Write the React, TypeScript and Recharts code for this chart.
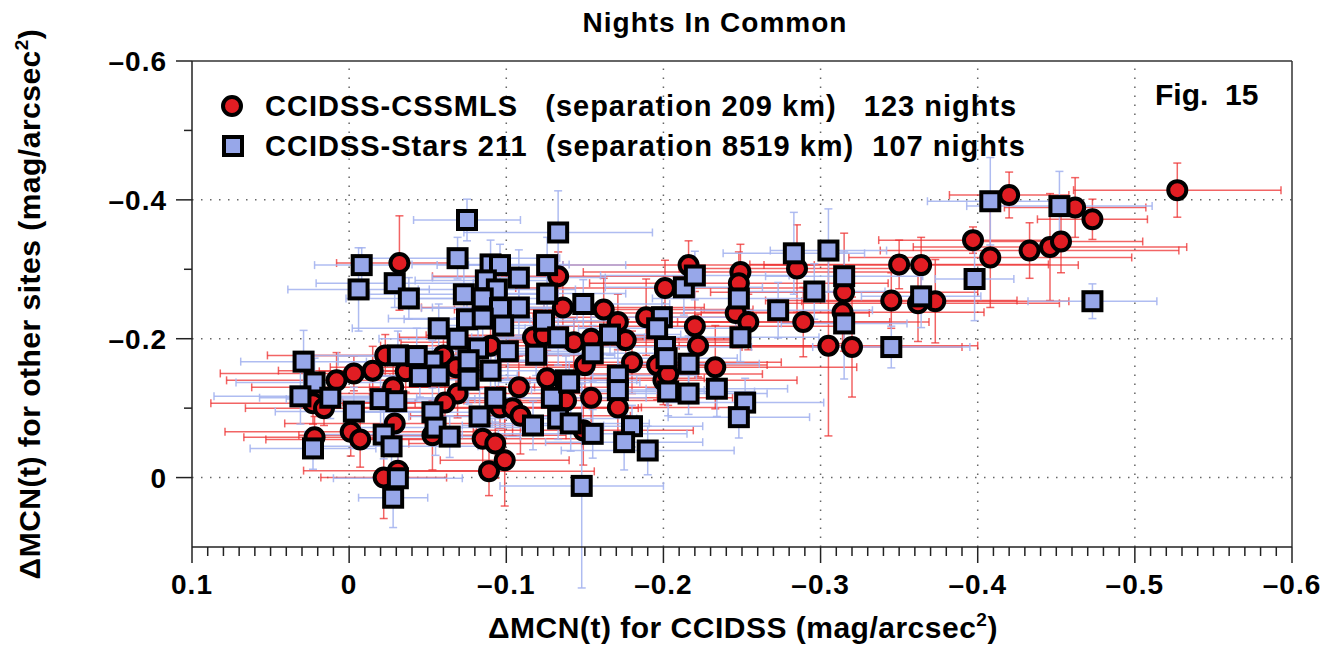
import { ScatterChart, Scatter, XAxis, YAxis, ErrorBar, ReferenceLine } from "recharts";

// [x, y, xErr, yErr]
const cssmlsNights: number[][] = [
  [-0.032, -0.309, 0.04, 0.068],
  [-0.023, -0.176, 0.075, 0.03],
  [-0.015, -0.154, 0.06, 0.035],
  [-0.003, -0.15, 0.085, 0.025],
  [0.008, -0.14, 0.07, 0.04],
  [-0.036, -0.153, 0.055, 0.03],
  [-0.028, -0.13, 0.09, 0.045],
  [0.023, -0.107, 0.065, 0.03],
  [0.016, -0.1, 0.05, 0.025],
  [0.022, -0.058, 0.045, 0.03],
  [-0.001, -0.066, 0.08, 0.035],
  [-0.007, -0.055, 0.06, 0.04],
  [-0.029, -0.078, 0.07, 0.04],
  [-0.053, -0.061, 0.085, 0.05],
  [-0.022, 0.0, 0.04, 0.059],
  [-0.031, -0.01, 0.06, 0.045],
  [-0.06, -0.176, 0.095, 0.04],
  [-0.068, -0.159, 0.08, 0.05],
  [-0.09, -0.19, 0.07, 0.045],
  [-0.069, -0.121, 0.1, 0.035],
  [-0.061, -0.108, 0.065, 0.045],
  [-0.085, -0.056, 0.075, 0.04],
  [-0.093, -0.049, 0.055, 0.05],
  [-0.099, -0.025, 0.041, 0.066],
  [-0.089, -0.009, 0.067, 0.035],
  [-0.096, -0.101, 0.09, 0.03],
  [-0.104, -0.1, 0.08, 0.04],
  [-0.109, -0.089, 0.07, 0.055],
  [-0.108, -0.13, 0.095, 0.045],
  [-0.117, -0.202, 0.085, 0.035],
  [-0.124, -0.205, 0.075, 0.05],
  [-0.126, -0.143, 0.1, 0.04],
  [-0.136, -0.245, 0.09, 0.04],
  [-0.133, -0.29, 0.08, 0.035],
  [-0.162, -0.242, 0.095, 0.045],
  [-0.171, -0.224, 0.085, 0.04],
  [-0.189, -0.231, 0.07, 0.055],
  [-0.143, -0.195, 0.11, 0.035],
  [-0.154, -0.2, 0.09, 0.04],
  [-0.176, -0.198, 0.075, 0.03],
  [-0.18, -0.166, 0.095, 0.045],
  [-0.15, -0.162, 0.08, 0.04],
  [-0.196, -0.162, 0.07, 0.05],
  [-0.2, -0.14, 0.085, 0.035],
  [-0.203, -0.149, 0.06, 0.045],
  [-0.154, -0.115, 0.09, 0.04],
  [-0.171, -0.101, 0.075, 0.06],
  [-0.138, -0.111, 0.065, 0.035],
  [-0.149, -0.068, 0.07, 0.05],
  [-0.201, -0.273, 0.095, 0.04],
  [-0.216, -0.306, 0.08, 0.035],
  [-0.22, -0.218, 0.1, 0.05],
  [-0.222, -0.19, 0.085, 0.045],
  [-0.233, -0.159, 0.09, 0.06],
  [-0.249, -0.296, 0.1, 0.04],
  [-0.248, -0.28, 0.095, 0.045],
  [-0.246, -0.237, 0.085, 0.05],
  [-0.254, -0.224, 0.09, 0.04],
  [-0.285, -0.301, 0.075, 0.063],
  [-0.289, -0.224, 0.08, 0.05],
  [-0.305, -0.19, 0.095, 0.13],
  [-0.32, -0.188, 0.07, 0.072],
  [-0.315, -0.267, 0.085, 0.085],
  [-0.314, -0.238, 0.09, 0.045],
  [-0.345, -0.255, 0.08, 0.04],
  [-0.362, -0.251, 0.09, 0.055],
  [-0.373, -0.254, 0.085, 0.06],
  [-0.35, -0.307, 0.095, 0.035],
  [-0.364, -0.306, 0.1, 0.04],
  [-0.397, -0.342, 0.06, 0.019],
  [-0.408, -0.317, 0.09, 0.072],
  [-0.42, -0.407, 0.038, 0.033],
  [-0.433, -0.327, 0.095, 0.04],
  [-0.446, -0.332, 0.087, 0.077],
  [-0.453, -0.34, 0.052, 0.045],
  [-0.462, -0.389, 0.045, 0.043],
  [-0.473, -0.372, 0.035, 0.029],
  [-0.527, -0.414, 0.066, 0.039],
];

const starsNights: number[][] = [
  [-0.075, -0.371, 0.034, 0.03],
  [-0.008, -0.306, 0.03, 0.025],
  [-0.006, -0.271, 0.045, 0.06],
  [-0.029, -0.28, 0.05, 0.035],
  [-0.038, -0.258, 0.04, 0.03],
  [-0.069, -0.316, 0.065, 0.03],
  [-0.09, -0.307, 0.05, 0.035],
  [-0.096, -0.306, 0.04, 0.03],
  [-0.108, -0.288, 0.055, 0.04],
  [-0.087, -0.284, 0.045, 0.035],
  [-0.094, -0.271, 0.05, 0.03],
  [-0.073, -0.264, 0.06, 0.04],
  [-0.085, -0.258, 0.045, 0.035],
  [-0.108, -0.245, 0.055, 0.04],
  [-0.096, -0.244, 0.05, 0.03],
  [-0.075, -0.228, 0.04, 0.035],
  [-0.085, -0.229, 0.06, 0.03],
  [-0.098, -0.219, 0.045, 0.04],
  [-0.057, -0.215, 0.055, 0.035],
  [-0.069, -0.2, 0.05, 0.03],
  [-0.101, -0.182, 0.045, 0.04],
  [-0.082, -0.186, 0.06, 0.035],
  [-0.076, -0.169, 0.05, 0.03],
  [-0.09, -0.154, 0.055, 0.04],
  [-0.076, -0.141, 0.045, 0.035],
  [-0.053, -0.167, 0.06, 0.03],
  [-0.043, -0.175, 0.05, 0.04],
  [-0.031, -0.176, 0.055, 0.035],
  [-0.045, -0.146, 0.045, 0.03],
  [-0.057, -0.147, 0.05, 0.04],
  [0.029, -0.167, 0.04, 0.045],
  [0.022, -0.137, 0.05, 0.035],
  [0.031, -0.117, 0.055, 0.04],
  [0.012, -0.115, 0.045, 0.03],
  [-0.003, -0.095, 0.05, 0.035],
  [-0.02, -0.113, 0.06, 0.04],
  [-0.03, -0.11, 0.045, 0.03],
  [-0.053, -0.094, 0.05, 0.035],
  [-0.055, -0.072, 0.055, 0.04],
  [-0.064, -0.059, 0.045, 0.03],
  [-0.022, -0.062, 0.05, 0.035],
  [-0.027, -0.045, 0.055, 0.04],
  [0.023, -0.042, 0.04, 0.03],
  [-0.093, -0.115, 0.05, 0.035],
  [-0.083, -0.088, 0.045, 0.04],
  [-0.031, 0.001, 0.041, 0.035],
  [-0.028, 0.029, 0.022, 0.043],
  [-0.126, -0.265, 0.05, 0.03],
  [-0.124, -0.226, 0.045, 0.035],
  [-0.133, -0.202, 0.055, 0.04],
  [-0.119, -0.177, 0.05, 0.03],
  [-0.138, -0.14, 0.045, 0.035],
  [-0.129, -0.115, 0.06, 0.04],
  [-0.133, -0.085, 0.05, 0.03],
  [-0.117, -0.075, 0.045, 0.035],
  [-0.133, -0.353, 0.06, 0.06],
  [-0.126, -0.306, 0.05, 0.04],
  [-0.149, -0.25, 0.055, 0.035],
  [-0.166, -0.206, 0.045, 0.03],
  [-0.155, -0.179, 0.05, 0.04],
  [-0.201, -0.188, 0.055, 0.035],
  [-0.199, -0.231, 0.045, 0.03],
  [-0.213, -0.274, 0.05, 0.04],
  [-0.22, -0.291, 0.06, 0.035],
  [-0.196, -0.215, 0.05, 0.03],
  [-0.216, -0.164, 0.045, 0.04],
  [-0.203, -0.124, 0.055, 0.035],
  [-0.216, -0.121, 0.05, 0.03],
  [-0.234, -0.128, 0.045, 0.04],
  [-0.249, -0.202, 0.05, 0.035],
  [-0.248, -0.258, 0.055, 0.03],
  [-0.273, -0.241, 0.06, 0.04],
  [-0.252, -0.108, 0.05, 0.035],
  [-0.248, -0.087, 0.045, 0.03],
  [-0.171, -0.147, 0.05, 0.04],
  [-0.171, -0.126, 0.055, 0.035],
  [-0.14, -0.137, 0.045, 0.03],
  [-0.141, -0.078, 0.05, 0.04],
  [-0.155, -0.063, 0.06, 0.035],
  [-0.18, -0.074, 0.045, 0.03],
  [-0.175, -0.051, 0.05, 0.04],
  [-0.19, -0.039, 0.055, 0.035],
  [-0.148, 0.012, 0.052, 0.147],
  [-0.202, -0.172, 0.045, 0.03],
  [-0.408, -0.398, 0.04, 0.063],
  [-0.452, -0.391, 0.059, 0.05],
  [-0.283, -0.323, 0.045, 0.059],
  [-0.305, -0.327, 0.037, 0.06],
  [-0.315, -0.29, 0.05, 0.035],
  [-0.296, -0.268, 0.045, 0.04],
  [-0.315, -0.222, 0.04, 0.08],
  [-0.345, -0.188, 0.05, 0.03],
  [-0.364, -0.261, 0.038, 0.045],
  [-0.398, -0.286, 0.025, 0.06],
  [-0.473, -0.254, 0.041, 0.025],
];

const xDomain = [-0.6, 0.1];
const yDomain = [-0.6, 0.1];
const xMajorTicks = [0.1, 0, -0.1, -0.2, -0.3, -0.4, -0.5, -0.6];
const yTicks = [-0.6, -0.5, -0.4, -0.3, -0.2, -0.1, 0];
const yLabelled = [-0.6, -0.4, -0.2, 0];
const gridX = [0, -0.1, -0.2, -0.3, -0.4, -0.5];
const gridY = [-0.4, -0.2, 0];

// minor ticks every 0.01 along x
const xTicks = Array.from({ length: 71 }, (_, i) => +(0.1 - i * 0.01).toFixed(2));

const FONT = '"Liberation Sans", Arial, Helvetica, sans-serif';
const RED = "#e11d23";
const BLUE = "#97a7e9";

const toRows = (rows: number[][]) => rows.map(([x, y, ex, ey]) => ({ x, y, ex, ey }));

const fmt = (v: number) => (v === 0 ? "0" : (v < 0 ? "\u2013" : "") + Math.abs(v).toFixed(1));
const isMajor = (v: number) => xMajorTicks.some((m) => Math.abs(m - v) < 1e-6);

const XTick = (p: any) => {
  const v = p.payload.value;
  const major = isMajor(v);
  return (
    <g>
      <line x1={p.x} y1={p.y} x2={p.x} y2={p.y + (major ? 16 : 9)} stroke="#222" strokeWidth={1.5} />
      {major && (
        <text x={p.x} y={p.y + 47} textAnchor="middle" fontSize={28} fontWeight="bold" fontFamily={FONT} fill="#000" style={{ letterSpacing: 1 }}>
          {fmt(v)}
        </text>
      )}
    </g>
  );
};

const YTick = (p: any) => {
  const v = p.payload.value;
  const major = yLabelled.some((m) => Math.abs(m - v) < 1e-6);
  return (
    <g>
      <line x1={p.x - (major ? 16 : 8)} y1={p.y} x2={p.x} y2={p.y} stroke="#222" strokeWidth={1.5} />
      {major && (
        <text x={p.x - 25} y={p.y + 10} textAnchor="end" fontSize={28} fontWeight="bold" fontFamily={FONT} fill="#000" style={{ letterSpacing: 1 }}>
          {fmt(v)}
        </text>
      )}
    </g>
  );
};

const Dot = (p: any) => <circle cx={p.cx} cy={p.cy} r={9} fill={RED} stroke="#000" strokeWidth={4} />;
const Square = (p: any) => (
  <rect x={p.cx - 9} y={p.cy - 9} width={18} height={18} fill={BLUE} stroke="#000" strokeWidth={4} />
);

export default function App() {
  return (
    <div style={{ position: "absolute", left: 0, top: 0, width: 1335, height: 647, background: "#fff" }}>
      <ScatterChart width={1335} height={647} margin={{ top: 61, right: 43, bottom: 40, left: 0 }}>
        <XAxis
          type="number"
          dataKey="x"
          domain={xDomain}
          reversed
          allowDataOverflow
          ticks={xTicks}
          interval={0}
          tickSize={0}
          tickMargin={0}
          height={60}
          tick={XTick}
          axisLine={{ stroke: "#222", strokeWidth: 1.5 }}
        />
        <YAxis
          type="number"
          dataKey="y"
          domain={yDomain}
          reversed
          allowDataOverflow
          ticks={yTicks}
          interval={0}
          tickSize={0}
          tickMargin={0}
          width={192}
          tick={YTick}
          axisLine={{ stroke: "#222", strokeWidth: 1.5 }}
        />
        {gridX.map((v) => (
          <ReferenceLine key={"gx" + v} x={v} stroke="#666" strokeWidth={1.5} strokeDasharray="1.5 7.5" />
        ))}
        {gridY.map((v) => (
          <ReferenceLine key={"gy" + v} y={v} stroke="#666" strokeWidth={1.5} strokeDasharray="1.5 7.5" />
        ))}
        <ReferenceLine y={-0.6} stroke="#333" strokeWidth={1.5} />
        <ReferenceLine x={-0.6} stroke="#333" strokeWidth={1.5} />
        <Scatter name="CCIDSS-CSSMLS" data={toRows(cssmlsNights)} shape={Dot} isAnimationActive={false}>
          <ErrorBar dataKey="ex" direction="x" width={4} stroke="#ee3030" strokeOpacity={0.75} strokeWidth={1.5} isAnimationActive={false} />
          <ErrorBar dataKey="ey" direction="y" width={4} stroke="#ee3030" strokeOpacity={0.75} strokeWidth={1.5} isAnimationActive={false} />
        </Scatter>
        <Scatter name="CCIDSS-Stars 211" data={toRows(starsNights)} shape={Square} isAnimationActive={false}>
          <ErrorBar dataKey="ex" direction="x" width={4} stroke="#a6b5f0" strokeOpacity={0.9} strokeWidth={1.5} isAnimationActive={false} />
          <ErrorBar dataKey="ey" direction="y" width={4} stroke="#a6b5f0" strokeOpacity={0.9} strokeWidth={1.5} isAnimationActive={false} />
        </Scatter>
      </ScatterChart>
      <svg width={1335} height={647} style={{ position: "absolute", left: 0, top: 0, pointerEvents: "none" }} fontFamily={FONT} fontWeight="bold">
        <text x={715} y={32} textAnchor="middle" fontSize={28} style={{ letterSpacing: 1 }}>
          Nights In Common
        </text>
        <text x={1155} y={105} fontSize={30}>
          Fig.{"\u00a0\u00a0"}15
        </text>
        <circle cx={232} cy={106} r={9} fill={RED} stroke="#000" strokeWidth={4} />
        <text x={265} y={116} fontSize={29} style={{ letterSpacing: 1, whiteSpace: "pre" }}>
          {"CCIDSS-CSSMLS   (separation 209 km)   123 nights"}
        </text>
        <rect x={224} y={137} width={18} height={18} fill={BLUE} stroke="#000" strokeWidth={4} />
        <text x={265} y={156} fontSize={29} style={{ letterSpacing: 1, whiteSpace: "pre" }}>
          {"CCIDSS-Stars 211  (separation 8519 km)  107 nights"}
        </text>
        <text x={743} y={638} textAnchor="middle" fontSize={30} style={{ letterSpacing: 0.5 }}>
          ΔMCN(t) for CCIDSS (mag/arcsec
          <tspan dy={-12} fontSize={19}>2</tspan>
          <tspan dy={12}>)</tspan>
        </text>
        <text x={40} y={304} textAnchor="middle" fontSize={30} transform="rotate(-90 40 304)" style={{ letterSpacing: 0.5 }}>
          ΔMCN(t) for other sites (mag/arcsec
          <tspan dy={-12} fontSize={19}>2</tspan>
          <tspan dy={12}>)</tspan>
        </text>
      </svg>
    </div>
  );
}
